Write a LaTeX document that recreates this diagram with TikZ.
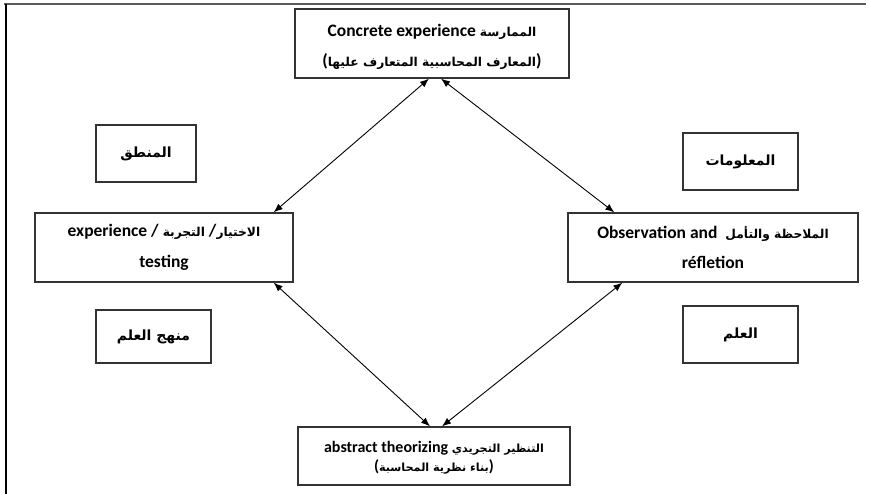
\documentclass[tikz,border=0pt]{standalone}
\usepackage{fontspec}
\setmainfont{Carlito}
\newfontfamily\arabicfont[Script=Arabic,Scale=0.7]{DejaVu Sans}
\TeXXeTstate=1
\usetikzlibrary{arrows.meta}
% Arabic run, bold, set right to left
\newcommand\artxt[1]{{\arabicfont\bfseries\beginR #1\endR}}
\newcommand\lead[1]{\rule{0pt}{#1}}

\begin{document}
\begin{tikzpicture}[x=1pt,y=-1pt,
  box/.style={draw=black!80, line width=1.3pt, fill=white, inner sep=0pt, align=center,
              font=\fontsize{17.5}{30.5}\selectfont\bfseries,
              execute at begin node={\lineskiplimit=-20pt\relax}},
  tagbox/.style={draw=black!80, line width=1.3pt, fill=white, inner sep=0pt,
              font=\fontsize{20}{22}\selectfont},
  link/.style={line width=0.9pt, {Latex[length=9pt,width=7pt]}-{Latex[length=9pt,width=7pt]}}]
\useasboundingbox (0,0) rectangle (869,494);

% frame
\draw[line width=2pt, black!65] (4,4) -- (866,4);
\draw[line width=2pt, black] (6,4) -- (6,494);

% cycle stages
\node[box, minimum width=274pt, minimum height=69pt] (conc) at (432,43.5)
  {\lead{19pt}Concrete experience \artxt{الممارسة}\\(\artxt{المعارف المحاسبية المتعارف عليها})};
\node[box, minimum width=258pt, minimum height=69pt] (test) at (164,247.5)
  {experience / \artxt{التجربة} /\artxt{الاختيار}\\testing};
\node[box, minimum width=290pt, minimum height=69pt] (obs) at (713,247.5)
  {Observation and\ \ \artxt{الملاحظة والتأمل}\\réfletion};
\node[box, minimum width=272pt, minimum height=58pt,
      font=\fontsize{16}{19.5}\selectfont\bfseries] (abs) at (434,456)
  {\lead{15pt}abstract theorizing \artxt{التنظير التجريدي}\\(\artxt{بناء نظرية المحاسبة})};

% side labels
\node[tagbox, minimum width=100pt, minimum height=57pt] (mantiq) at (146,153.5) {\artxt{المنطق}};
\node[tagbox, minimum width=115pt, minimum height=57pt] (maalumat) at (740.5,161.5) {\artxt{المعلومات}};
\node[tagbox, minimum width=115pt, minimum height=53pt] (manhaj) at (153.5,336.5) {\artxt{منهج العلم}};
\node[tagbox, minimum width=115pt, minimum height=57pt] (ilm) at (740.5,334.5) {\artxt{العلم}};

% connectors
\draw[link] ([xshift=-3pt]conc.south) -- ([xshift=-20pt]test.north east);
\draw[link] ([xshift=9pt]conc.south) -- ([xshift=47pt]obs.north west);
\draw[link] ([xshift=-20pt]test.south east) -- ([xshift=-4pt]abs.north);
\draw[link] ([xshift=55pt]obs.south west) -- ([xshift=8pt]abs.north);
\end{tikzpicture}
\end{document}
